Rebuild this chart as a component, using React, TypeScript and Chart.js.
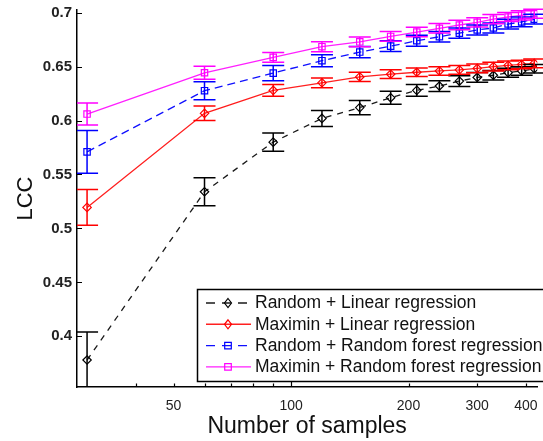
import { useEffect, useRef } from 'react';
import { Chart, registerables } from 'chart.js';

Chart.register(...registerables);

// ---- data ----
const sampleSizes = [30, 60, 90, 120, 150, 180, 210, 240, 270, 300, 330, 360, 390, 420];

const randomLinear = [0.378, 0.534, 0.580, 0.602, 0.612, 0.6212, 0.628, 0.632, 0.6366, 0.640, 0.642, 0.6444, 0.646, 0.648];
const randomLinearErr = [0.026, 0.013, 0.0085, 0.0074, 0.0065, 0.006, 0.0055, 0.005, 0.005, 0.0045, 0.0045, 0.0042, 0.004, 0.004];

const maximinLinear = [0.5195, 0.6067, 0.628, 0.635, 0.6405, 0.643, 0.6448, 0.646, 0.647, 0.6484, 0.650, 0.6512, 0.652, 0.653];
const maximinLinearErr = [0.0165, 0.0067, 0.0055, 0.0045, 0.0042, 0.004, 0.004, 0.004, 0.004, 0.004, 0.004, 0.004, 0.004, 0.004];

const randomForest = [0.571, 0.6277, 0.644, 0.6555, 0.6635, 0.669, 0.674, 0.6777, 0.681, 0.684, 0.6858, 0.6895, 0.6915, 0.694];
const randomForestErr = [0.0198, 0.0083, 0.007, 0.0055, 0.0052, 0.005, 0.005, 0.0048, 0.0048, 0.0046, 0.0046, 0.0045, 0.0045, 0.0045];

const maximinForest = [0.606, 0.6443, 0.6586, 0.6685, 0.673, 0.678, 0.682, 0.6855, 0.6886, 0.691, 0.694, 0.696, 0.6975, 0.699];
const maximinForestErr = [0.0102, 0.006, 0.0045, 0.0046, 0.0045, 0.0045, 0.0044, 0.0044, 0.0043, 0.0043, 0.0043, 0.0042, 0.0042, 0.0042];

const seriesLabels = [
  'Random + Linear regression',
  'Maximin + Linear regression',
  'Random + Random forest regression',
  'Maximin + Random forest regression',
];

const xLabeledTicks = [50, 100, 200, 300, 400];
const xMinorTicks = [40, 60, 70, 80, 90];
const yTicks = [0.4, 0.45, 0.5, 0.55, 0.6, 0.65, 0.7];
const yTickLabels = ['0.4', '0.45', '0.5', '0.55', '0.6', '0.65', '0.7'];

const FONT = '"Liberation Sans", Arial, Helvetica, sans-serif';

export default function App() {
  const ref = useRef<HTMLCanvasElement | null>(null);

  useEffect(() => {
    const canvas = ref.current;
    if (!canvas) return;

    const seriesValues = [randomLinear, maximinLinear, randomForest, maximinForest];
    const seriesErrors = [randomLinearErr, maximinLinearErr, randomForestErr, maximinForestErr];
    const colors = ['#1a1a1a', '#ff2020', '#1010ff', '#ff20ff'];
    const markColors = ['#000000', '#ff0000', '#0000ff', '#ff00ff'];
    const dashes = [[6, 6], [], [8, 5], []];
    const styles = ['rectRot', 'rectRot', 'rect', 'rect'];

    const datasets = seriesValues.map((vals, k) => ({
      label: seriesLabels[k],
      data: sampleSizes.map((x, i) => ({ x, y: vals[i] })),
      errors: seriesErrors[k],
      markColor: markColors[k],
      borderColor: colors[k],
      borderWidth: 1.3,
      borderDash: dashes[k],
      pointStyle: styles[k],
      pointRadius: styles[k] === 'rect' ? 4.5 : 4.2,
      pointBorderColor: markColors[k],
      pointBackgroundColor: 'rgba(0,0,0,0)',
      pointBorderWidth: 1.2,
      tension: 0,
      fill: false,
      order: 4 - k,
    }));

    const errorBars = {
      id: 'errorBars',
      afterDatasetsDraw(chart: any) {
        const { ctx, chartArea, scales } = chart;
        const xs = scales.x;
        const ys = scales.y;
        ctx.save();
        ctx.beginPath();
        ctx.rect(chartArea.left, 0, chartArea.right - chartArea.left + 20, chartArea.bottom);
        ctx.clip();
        chart.data.datasets.forEach((ds: any) => {
          ctx.strokeStyle = ds.markColor;
          ctx.lineWidth = 1.5;
          ctx.setLineDash([]);
          ds.data.forEach((p: any, i: number) => {
            const e = ds.errors[i];
            const px = xs.getPixelForValue(p.x);
            const top = ys.getPixelForValue(p.y + e);
            const bot = ys.getPixelForValue(p.y - e);
            const cap = 11;
            ctx.beginPath();
            ctx.moveTo(px, top);
            ctx.lineTo(px, bot);
            ctx.moveTo(px - cap, top);
            ctx.lineTo(px + cap, top);
            ctx.moveTo(px - cap, bot);
            ctx.lineTo(px + cap, bot);
            ctx.stroke();
          });
        });
        ctx.restore();
      },
    };

    const inwardTicks = {
      id: 'inwardTicks',
      afterDraw(chart: any) {
        const { ctx, chartArea, scales } = chart;
        ctx.save();
        ctx.strokeStyle = '#000';
        ctx.lineWidth = 1.2;
        ctx.beginPath();
        scales.y.ticks.forEach((t: any) => {
          const py = Math.round(scales.y.getPixelForValue(t.value)) + 0.5;
          ctx.moveTo(chartArea.left, py);
          ctx.lineTo(chartArea.left + 5, py);
        });
        scales.x.ticks.forEach((t: any) => {
          const px = Math.round(scales.x.getPixelForValue(t.value)) + 0.5;
          const len = t.value === 100 ? 6 : 3.5;
          ctx.moveTo(px, chartArea.bottom);
          ctx.lineTo(px, chartArea.bottom - len);
        });
        ctx.stroke();
        ctx.restore();
      },
    };

    const boxLegend = {
      id: 'boxLegend',
      afterDraw(chart: any) {
        const { ctx } = chart;
        const boxLeft = 197;
        const boxTop = 289;
        const boxH = 92;
        const rowH = 21.3;
        ctx.save();
        ctx.fillStyle = '#fff';
        ctx.fillRect(boxLeft, boxTop, 600, boxH);
        ctx.strokeStyle = '#000';
        ctx.lineWidth = 1.5;
        ctx.setLineDash([]);
        ctx.strokeRect(boxLeft + 0.5, boxTop + 0.5, 600, boxH);
        chart.data.datasets.forEach((ds: any, i: number) => {
          const cy = boxTop + 14 + i * rowH;
          ctx.strokeStyle = ds.borderColor;
          ctx.lineWidth = 1.4;
          ctx.setLineDash(ds.borderDash.length ? [9, 7] : []);
          ctx.beginPath();
          ctx.moveTo(206, cy);
          ctx.lineTo(251, cy);
          ctx.stroke();
          ctx.setLineDash([]);
          ctx.strokeStyle = ds.markColor;
          ctx.lineWidth = 1.2;
          const mx = 228;
          ctx.beginPath();
          if (ds.pointStyle === 'rect') {
            ctx.fillStyle = '#fff';
            ctx.rect(mx - 3.3, cy - 3.3, 6.6, 6.6);
          } else {
            ctx.moveTo(mx, cy - 4.5);
            ctx.lineTo(mx + 3.5, cy);
            ctx.lineTo(mx, cy + 4.5);
            ctx.lineTo(mx - 3.5, cy);
            ctx.closePath();
          }
          ctx.stroke();
          ctx.fillStyle = '#111';
          ctx.font = `17.5px ${FONT}`;
          ctx.textBaseline = 'middle';
          ctx.textAlign = 'left';
          ctx.fillText(ds.label, 255, cy + 0.5);
        });
        ctx.restore();
      },
    };

    const chart = new Chart(canvas, {
      type: 'line',
      data: { datasets: datasets as any },
      options: {
        animation: false,
        responsive: false,
        devicePixelRatio: 1,
        layout: { padding: { top: 10, right: 0, bottom: 0, left: 0 } },
        plugins: {
          legend: { display: false },
          tooltip: { enabled: false },
          title: { display: false },
        },
        scales: {
          x: {
            type: 'logarithmic',
            min: 28.27,
            max: 427.7,
            grid: { display: false, drawTicks: false },
            border: { display: true, color: '#000', width: 1.5 },
            afterBuildTicks: (s: any) => {
              s.ticks = [...xMinorTicks, ...xLabeledTicks]
                .sort((a, b) => a - b)
                .map((v) => ({ value: v }));
            },
            afterFit: (s: any) => {
              s.height = 54;
              s.paddingLeft = 0;
              s.paddingRight = 0;
            },
            ticks: {
              autoSkip: false,
              maxRotation: 0,
              minRotation: 0,
              padding: 11,
              color: '#222',
              font: { family: FONT, size: 14 },
              callback: (v: any) => (xLabeledTicks.includes(Number(v)) ? String(v) : ''),
            },
            title: {
              display: true,
              text: 'Number of samples',
              color: '#111',
              font: { family: FONT, size: 23 },
              padding: { top: 0, bottom: 1 },
            },
          },
          y: {
            type: 'linear',
            min: 0.353,
            max: 0.7025,
            grid: { display: false, drawTicks: false },
            border: { display: true, color: '#000', width: 1.5 },
            afterBuildTicks: (s: any) => {
              s.ticks = yTicks.map((v) => ({ value: v }));
            },
            afterFit: (s: any) => {
              s.width = 77;
              s.paddingTop = 0;
              s.paddingBottom = 0;
            },
            ticks: {
              autoSkip: false,
              padding: 5,
              color: '#222',
              font: { family: FONT, size: 15, weight: 'bold' },
              callback: (v: any) => {
                const idx = yTicks.findIndex((t) => Math.abs(t - Number(v)) < 1e-9);
                return idx >= 0 ? yTickLabels[idx] : '';
              },
            },
            title: {
              display: true,
              text: 'LCC',
              color: '#111',
              font: { family: FONT, size: 22 },
              padding: { top: 13, bottom: 0 },
            },
          },
        },
      },
      plugins: [errorBars, inwardTicks, boxLegend],
    });

    return () => chart.destroy();
  }, []);

  return (
    <div style={{ position: 'fixed', left: 0, top: 0, width: 543, height: 441, background: '#fff' }}>
      <canvas ref={ref} width={543} height={441} style={{ display: 'block', width: 543, height: 441 }} />
    </div>
  );
}
